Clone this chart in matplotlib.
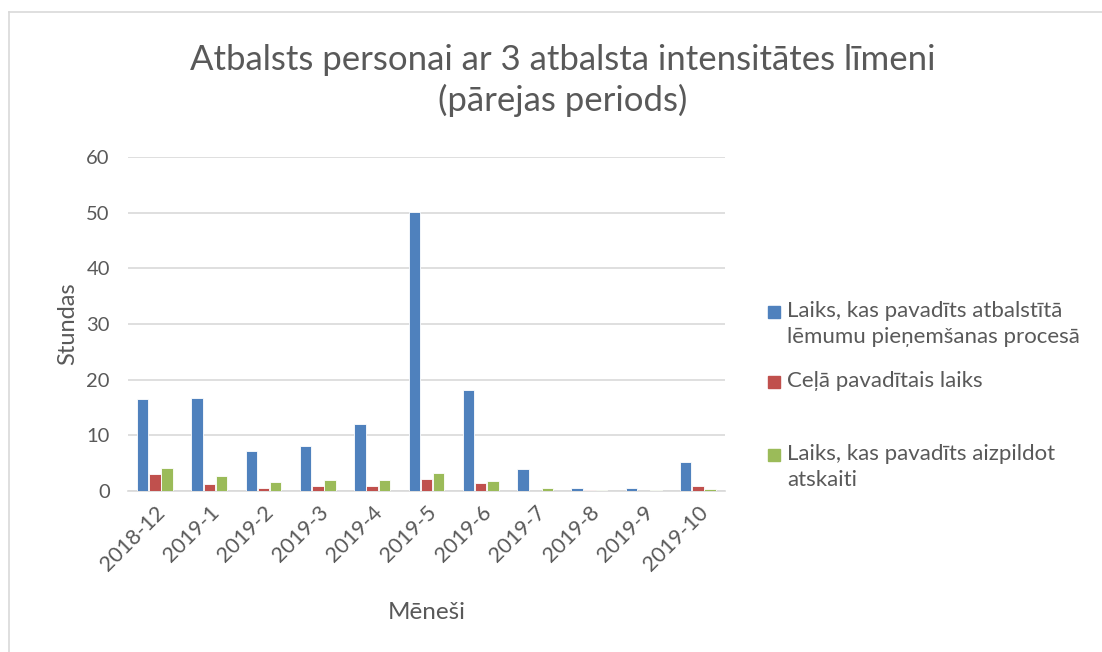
import numpy as np
import matplotlib.pyplot as plt
from matplotlib.lines import Line2D
from matplotlib.patches import Rectangle

months = ['2018-12', '2019-1', '2019-2', '2019-3', '2019-4', '2019-5',
          '2019-6', '2019-7', '2019-8', '2019-9', '2019-10']
lemumi = [16.6, 16.7, 7.2, 8.1, 12.1, 50.1, 18.2, 3.9, 0.6, 0.55, 5.2]
cela = [3.1, 1.3, 0.6, 0.9, 0.9, 2.2, 1.4, 0.0, 0.25, 0.0, 0.9]
atskaite = [4.2, 2.7, 1.6, 2.0, 2.0, 3.3, 1.8, 0.5, 0.2, 0.2, 0.4]

series = [
    ('Laiks, kas pavadīts atbalstītā\nlēmumu pieņemšanas procesā', lemumi, '#4F81BD'),
    ('Ceļā pavadītais laiks', cela, '#C0504D'),
    ('Laiks, kas pavadīts aizpildot\natskaiti', atskaite, '#9BBB59'),
]

plt.rcParams['font.family'] = ['Lato', 'DejaVu Sans']
txt = '#595959'
W, H = 1102, 652

fig = plt.figure(figsize=(11.02, 6.52), dpi=100)
ax = fig.add_axes([0.116, 0.247, 0.542, 0.512])

x = np.arange(len(months))
step = 0.225
for i, (name, vals, col) in enumerate(series):
    ax.bar(x + (i - 1) * step, vals, width=0.21, color=col, edgecolor='white',
           linewidth=0.6, label=name, zorder=3)

ax.set_xlim(-0.5, len(months) - 0.5)
ax.set_ylim(0, 60)
ax.set_yticks(range(0, 61, 10))
ax.yaxis.grid(True, color='#D9D9D9', linewidth=1.2, zorder=0)
for s in ['top', 'right', 'left']:
    ax.spines[s].set_visible(False)
ax.spines['bottom'].set_color('#D9D9D9')
ax.spines['bottom'].set_linewidth(1.2)
ax.tick_params(axis='both', length=0, colors=txt)
ax.tick_params(axis='y', pad=13, labelsize=14.5)
ax.tick_params(axis='x', pad=8, labelsize=15.5)
ax.set_xticks(x)
ax.set_xticklabels(months, rotation=45, ha='right', rotation_mode='anchor')

ax.set_ylabel('Stundas', fontsize=17, color=txt, labelpad=6)
ax.set_xlabel('Mēneši', fontsize=17.5, color=txt, labelpad=20)
fig.text(0.511, 0.877, 'Atbalsts personai ar 3 atbalsta intensitātes līmeni\n(pārejas periods)',
         ha='center', va='center', fontsize=25, color=txt, linespacing=1.3)

# legend drawn by hand (Excel spaces the entries unevenly)
leg_y = [317, 387, 460]  # first-line baselines in pixels
line_h = 26
for (name, vals, col), yb in zip(series, leg_y):
    fig.patches.append(Rectangle((768 / W, 1 - (yb + 1) / H), 12 / W, 12 / H,
                                 transform=fig.transFigure, color=col))
    for k, line in enumerate(name.split('\n')):
        fig.text(787 / W, 1 - (yb + k * line_h) / H, line, ha='left', va='baseline',
                 fontsize=16, color=txt)

fig.add_artist(Line2D([0.008, 0.008], [0, 0.981], color='#D9D9D9', lw=1.2, transform=fig.transFigure))
fig.add_artist(Line2D([0.008, 1], [0.981, 0.981], color='#D9D9D9', lw=1.2, transform=fig.transFigure))

fig.savefig('out.png', dpi=100)
